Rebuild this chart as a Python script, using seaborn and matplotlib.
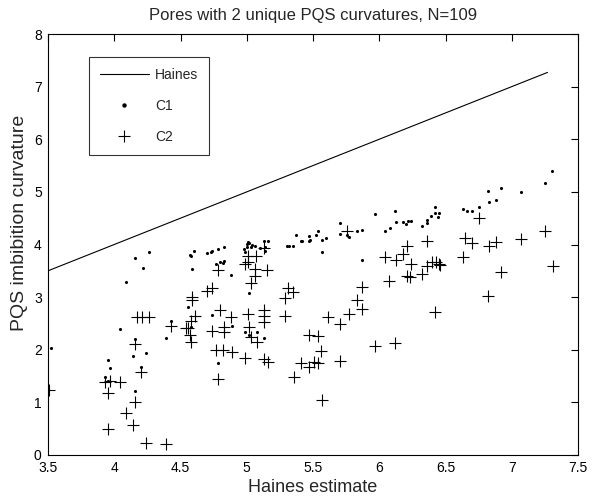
import matplotlib
matplotlib.use("Agg")
import matplotlib.pyplot as plt
import seaborn as sns
import pandas as pd
from matplotlib.lines import Line2D

# Haines line (y = x)
haines_x = [3.5, 7.27]
haines_y = [3.5, 7.27]

# C1 (dots)
c1_x = [3.52, 3.93, 3.95, 3.95, 3.97, 4.04, 4.09, 4.14, 4.155, 4.16, 4.16, 4.20, 4.22, 4.24, 4.26,
        4.39, 4.43, 4.56, 4.58, 4.58, 4.59, 4.60, 4.70, 4.74, 4.78, 4.83, 4.74, 4.77, 4.80, 4.83,
        4.82, 4.78, 4.88, 4.89, 4.99, 5.00, 5.01, 5.03, 5.06, 5.02, 4.99, 5.08, 5.13, 5.13, 5.16,
        5.14, 5.14, 5.30, 5.35, 5.37, 5.42, 5.47, 5.47, 5.52, 5.54, 5.57, 5.60, 5.57, 5.70, 5.70,
        5.76, 5.77, 5.83, 5.87, 5.87, 5.97, 6.12, 6.04, 6.08, 6.13, 6.18, 6.20, 6.22, 6.24, 6.32,
        6.36, 6.36, 6.39, 6.42, 6.42, 6.45, 6.44, 6.63, 6.66, 6.70, 6.75, 6.82, 6.83, 6.88, 6.92,
        7.07, 7.25, 7.30, 5.02, 5.04, 4.98, 5.10, 5.32, 5.41, 5.48, 5.02, 4.73, 4.57, 5.00]
c1_y = [2.04, 1.49, 1.40, 1.81, 1.65, 2.39, 3.29, 1.88, 1.22, 2.20, 3.75, 1.68, 3.55, 1.94, 3.85,
        2.23, 2.55, 2.82, 2.43, 3.78, 3.54, 3.88, 3.83, 3.88, 3.92, 3.95, 2.66, 3.63, 3.67, 3.69,
        3.65, 1.75, 3.42, 2.45, 3.86, 3.95, 4.04, 3.96, 3.97, 3.08, 2.34, 2.33, 2.22, 4.06, 4.07,
        3.96, 3.87, 3.97, 3.97, 4.18, 4.07, 4.07, 4.17, 4.18, 4.25, 4.09, 4.12, 3.85, 4.40, 4.20,
        4.18, 4.15, 4.26, 4.28, 3.71, 4.58, 4.64, 4.26, 4.31, 4.42, 4.42, 4.39, 4.45, 4.44, 4.35,
        4.40, 4.47, 4.54, 4.72, 4.60, 4.60, 4.53, 4.68, 4.63, 4.64, 4.71, 5.02, 4.80, 4.85, 5.08,
        4.99, 5.17, 5.40, 4.02, 3.99, 3.92, 3.94, 3.98, 4.06, 4.09, 2.28, 3.86, 3.80, 4.01]

# C2 (plus)
c2_x = [3.51, 3.93, 3.97, 4.04, 3.95, 3.95, 4.09, 4.14, 4.155, 4.155, 4.17, 4.21, 4.26, 4.20, 4.24,
        4.39, 4.43, 4.54, 4.56, 4.57, 4.58, 4.58, 4.59, 4.59, 4.61, 4.70, 4.74, 4.78, 4.74, 4.83,
        4.83, 4.80, 4.88, 4.77, 4.82, 4.89, 4.78, 4.99, 5.01, 5.01, 4.99, 5.07, 5.06, 5.15, 5.06,
        5.03, 5.01, 5.13, 5.13, 5.13, 5.02, 5.03, 5.08, 5.13, 5.16, 5.29, 5.31, 5.35, 5.29, 5.36,
        5.41, 5.47, 5.51, 5.54, 5.47, 5.54, 5.56, 5.57, 5.61, 5.70, 5.77, 5.70, 5.83, 5.87, 5.87,
        5.76, 5.97, 6.12, 6.04, 6.13, 6.07, 6.18, 6.21, 6.21, 6.23, 6.24, 6.32, 6.36, 6.40, 6.43,
        6.45, 6.46, 6.36, 6.42, 6.63, 6.65, 6.70, 6.75, 6.83, 6.88, 6.82, 6.92, 7.07, 7.25, 7.31,
        5.13]
c2_y = [1.24, 1.38, 1.41, 1.38, 1.18, 0.50, 0.80, 0.57, 1.01, 2.10, 2.63, 2.63, 2.63, 1.58, 0.23,
        0.21, 2.45, 2.42, 2.41, 2.28, 2.14, 2.55, 3.01, 2.95, 2.65, 3.12, 3.18, 3.52, 2.36, 2.44,
        2.34, 2.76, 2.63, 2.00, 2.00, 1.95, 1.44, 1.85, 3.78, 3.66, 3.63, 3.78, 3.54, 3.52, 3.41,
        3.26, 2.68, 2.76, 2.65, 2.52, 2.43, 2.25, 2.14, 1.82, 1.77, 2.65, 3.17, 3.09, 2.98, 1.48,
        1.75, 1.68, 1.77, 1.74, 2.28, 2.26, 1.98, 1.05, 2.62, 2.48, 2.67, 1.79, 2.95, 2.77, 3.20,
        4.25, 2.08, 2.12, 3.76, 3.71, 3.31, 3.82, 3.97, 3.40, 3.38, 3.63, 3.44, 3.60, 3.66, 3.67,
        3.63, 3.61, 4.07, 2.71, 3.77, 4.12, 4.02, 4.50, 3.98, 4.04, 3.03, 3.48, 4.10, 4.26, 3.60,
        3.93]

x_ticks = [3.5, 4, 4.5, 5, 5.5, 6, 6.5, 7, 7.5]
x_tick_labels = ["3.5", "4", "4.5", "5", "5.5", "6", "6.5", "7", "7.5"]
y_ticks = [0, 1, 2, 3, 4, 5, 6, 7, 8]
y_tick_labels = ["0", "1", "2", "3", "4", "5", "6", "7", "8"]

sns.set_style("white")
plt.rcParams['font.family'] = ['Liberation Sans', 'DejaVu Sans']

fig = plt.figure(figsize=(5.95, 5.01), dpi=100)
ax = fig.add_axes([48 / 595, 46 / 501, 530 / 595, 421 / 501])

df_h = pd.DataFrame({"x": haines_x, "y": haines_y})
df1 = pd.DataFrame({"x": c1_x, "y": c1_y})
df2 = pd.DataFrame({"x": c2_x, "y": c2_y})

sns.lineplot(data=df_h, x="x", y="y", ax=ax, color="black", linewidth=0.8, legend=False)
sns.scatterplot(data=df1, x="x", y="y", ax=ax, marker="o", s=5, color="black",
                edgecolor="black", linewidth=0, legend=False)
sns.scatterplot(data=df2, x="x", y="y", ax=ax, marker="+", s=80, color="black",
                linewidth=0.8, legend=False)

ax.set_xlim(3.5, 7.5)
ax.set_ylim(0, 8)
ax.set_xticks(x_ticks)
ax.set_xticklabels(x_tick_labels)
ax.set_yticks(y_ticks)
ax.set_yticklabels(y_tick_labels)
ax.tick_params(direction="in", length=5, width=0.8, top=True, right=True,
               labelsize=10, colors="black", pad=4.5)
for s in ax.spines.values():
    s.set_visible(True)
    s.set_color("black")
    s.set_linewidth(0.8)

ax.set_xlabel("Haines estimate", fontsize=13, labelpad=3)
ax.set_ylabel("PQS imbibition curvature", fontsize=14)
ax.yaxis.set_label_coords(-0.038, 0.551)
ax.set_title("Pores with 2 unique PQS curvatures, N=109", fontsize=12, pad=10)

handles = [
    Line2D([], [], color="black", linewidth=0.8, label="Haines"),
    Line2D([], [], color="black", marker="o", markersize=2.2, linestyle="none", label="C1"),
    Line2D([], [], color="black", marker="+", markersize=8, markeredgewidth=0.8,
           linestyle="none", label="C2"),
]
leg = ax.legend(handles=handles, loc="upper left", bbox_to_anchor=(0.0774, 0.945),
                borderaxespad=0, frameon=True, fancybox=False, edgecolor="black",
                fontsize=10, handlelength=3.5, handletextpad=0.45, labelspacing=1.2,
                borderpad=0.8, markerfirst=True)
leg.get_frame().set_linewidth(0.8)

fig.savefig("out.png", dpi=100, facecolor="white")
